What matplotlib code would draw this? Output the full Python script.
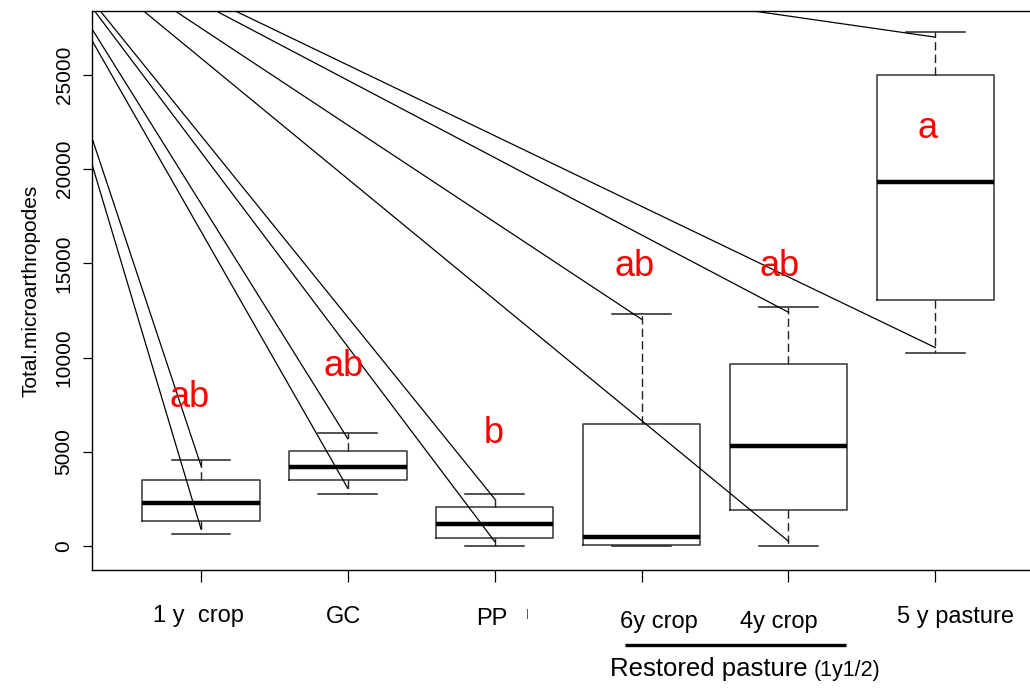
import numpy as np
import matplotlib
matplotlib.use('Agg')
import matplotlib.pyplot as plt

plt.rcParams['font.family'] = ['Liberation Sans', 'DejaVu Sans']

# data
groups = ['1 y  crop', 'GC', 'PP', '6y crop', '4y crop', '5 y pasture']
q1 = [1323, 3492, 460, 90, 1926, 13058]
med = [2275, 4201, 1201, 476, 5291, 19296]
q3 = [3492, 5063, 2063, 6506, 9664, 24995]
whis_lo = [635, 2772, 0, 0, 0, 10249]
whis_hi = [4571, 6016, 2772, 12324, 12680, 27249]

# stray segments all start from one point up-left of the plot
seg_from_x = -0.27
seg_from_y = 34000
seg_to_top = [4270, 5698, 2508, 12032, 12402, 26984]
seg_to_bottom = [921, 3069, 249, np.nan, 265, 10529]

letters = ['ab', 'ab', 'b', 'ab', 'ab', 'a']
letter_x = [0.92, 1.97, 2.99, 3.95, 4.94, 5.95]
letter_y = [7400, 9030, 5490, 14320, 14320, 21660]

positions = np.arange(1, len(groups) + 1)

fig = plt.figure(figsize=(10.30, 6.88), dpi=100)
ax = fig.add_axes([0.0896, 0.1722, 0.924, 0.8111])

stats = []
for i in range(len(groups)):
    stats.append(dict(med=med[i], q1=q1[i], q3=q3[i],
                      whislo=whis_lo[i], whishi=whis_hi[i], fliers=[]))

ax.bxp(stats, positions=positions, widths=0.8, showfliers=False,
       manage_ticks=False,
       boxprops=dict(color='#333333', lw=1.1),
       medianprops=dict(color='black', lw=3.2, solid_capstyle='butt'),
       whiskerprops=dict(color='#222222', lw=1.0, linestyle=(0, (6, 3))),
       capprops=dict(color='#222222', lw=1.1))

for i in range(len(groups)):
    for yend in (seg_to_top[i], seg_to_bottom[i]):
        if np.isnan(yend):
            continue
        ax.plot([seg_from_x, positions[i]], [seg_from_y, yend],
                color='black', lw=0.9)

for i in range(len(groups)):
    ax.text(letter_x[i], letter_y[i], letters[i], color='red',
            fontsize=26, ha='center', va='baseline')

ax.set_xlim(0.26, 6.74)
ax.set_ylim(-1233, 28344)

ax.set_xticks(positions)
ax.set_xticklabels([])
ax.tick_params(axis='x', length=8.6, width=0.9)
ax.set_yticks([0, 5000, 10000, 15000, 20000, 25000])
ax.tick_params(axis='y', length=6.5, width=0.9, labelsize=15,
               labelrotation=90, pad=7)
for lab in ax.get_yticklabels():
    lab.set_va('center')

for sp in ax.spines.values():
    sp.set_linewidth(1.0)

ax.set_ylabel('Total.microarthropodes', fontsize=15)
ax.yaxis.set_label_coords(-0.054, 0.5)

# category names under the axis
xt = ax.get_xaxis_transform()
label_x = [0.98, 1.97, 2.98, 4.118, 4.934, 6.14]
label_y = [-0.083, -0.085, -0.088, -0.094, -0.094, -0.085]
for i in range(len(groups)):
    ax.text(label_x[i], label_y[i], groups[i], transform=xt,
            fontsize=17, ha='center', va='center', clip_on=False)

ax.plot([3.887, 5.395], [-0.1353, -0.1353], transform=xt, color='black',
        lw=2.4, clip_on=False, solid_capstyle='butt')
ax.text(3.785, -0.1915, 'Restored pasture', transform=xt,
        fontsize=18.5, ha='left', va='baseline', clip_on=False)
ax.text(5.17, -0.1915, '(1y1/2)', transform=xt,
        fontsize=15.5, ha='left', va='baseline', clip_on=False)
ax.text(3.22, -0.079, '|', transform=xt, fontsize=8, color='#444444',
        ha='center', va='center', clip_on=False)

fig.savefig('out.png', dpi=100)
